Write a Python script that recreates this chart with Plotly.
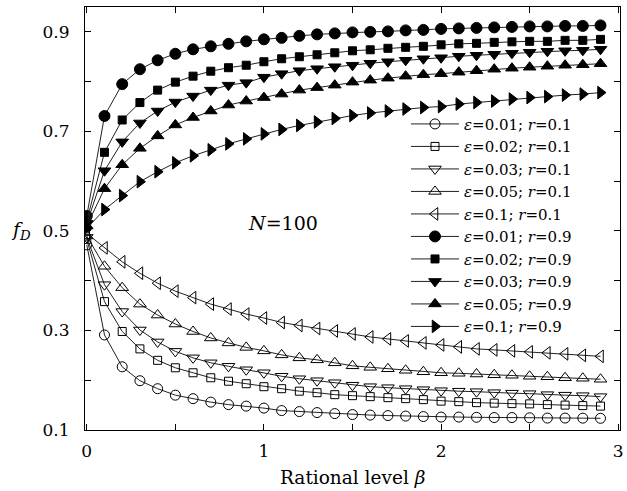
import plotly.graph_objects as go

beta = [0.0, 0.1, 0.2, 0.3, 0.4, 0.5, 0.6, 0.7, 0.8, 0.9,
        1.0, 1.1, 1.2, 1.3, 1.4, 1.5, 1.6, 1.7, 1.8, 1.9,
        2.0, 2.1, 2.2, 2.3, 2.4, 2.5, 2.6, 2.7, 2.8, 2.9]

# r = 0.1 (open markers)
e001_r01 = [0.472, 0.291, 0.227, 0.199, 0.183, 0.170, 0.163, 0.156, 0.151, 0.148,
            0.144, 0.139, 0.137, 0.135, 0.133, 0.131, 0.130, 0.129, 0.128, 0.127,
            0.126, 0.126, 0.1255, 0.125, 0.125, 0.1245, 0.124, 0.124, 0.1238, 0.1235]
e002_r01 = [0.483, 0.358, 0.298, 0.263, 0.240, 0.225, 0.215, 0.205, 0.198, 0.193,
            0.187, 0.183, 0.178, 0.175, 0.171, 0.169, 0.167, 0.165, 0.163, 0.161,
            0.158, 0.157, 0.155, 0.154, 0.153, 0.1525, 0.151, 0.150, 0.149, 0.148]
e003_r01 = [0.487, 0.392, 0.338, 0.301, 0.277, 0.258, 0.245, 0.235, 0.228, 0.221,
            0.215, 0.208, 0.203, 0.199, 0.195, 0.190, 0.187, 0.185, 0.183, 0.181,
            0.179, 0.178, 0.177, 0.175, 0.174, 0.173, 0.171, 0.170, 0.169, 0.167]
e005_r01 = [0.490, 0.429, 0.386, 0.353, 0.331, 0.313, 0.298, 0.285, 0.275, 0.266,
            0.259, 0.251, 0.245, 0.241, 0.235, 0.229, 0.226, 0.223, 0.220, 0.217,
            0.215, 0.214, 0.2125, 0.211, 0.210, 0.208, 0.207, 0.205, 0.204, 0.202]
e01_r01 = [0.495, 0.466, 0.438, 0.415, 0.395, 0.379, 0.366, 0.353, 0.343, 0.333,
           0.325, 0.316, 0.310, 0.304, 0.299, 0.293, 0.287, 0.283, 0.279, 0.275,
           0.271, 0.267, 0.263, 0.261, 0.259, 0.257, 0.255, 0.253, 0.250, 0.248]

# r = 0.9 (filled markers)
e001_r09 = [0.530, 0.731, 0.795, 0.825, 0.843, 0.856, 0.865, 0.871, 0.876, 0.881,
            0.885, 0.888, 0.892, 0.895, 0.897, 0.899, 0.900, 0.901, 0.903, 0.904,
            0.906, 0.907, 0.908, 0.909, 0.910, 0.911, 0.911, 0.912, 0.912, 0.913]
e002_r09 = [0.520, 0.658, 0.723, 0.758, 0.783, 0.799, 0.811, 0.821, 0.828, 0.833,
            0.840, 0.846, 0.850, 0.854, 0.858, 0.862, 0.864, 0.867, 0.869, 0.871,
            0.874, 0.876, 0.877, 0.879, 0.880, 0.881, 0.881, 0.883, 0.883, 0.885]
e003_r09 = [0.515, 0.621, 0.679, 0.717, 0.741, 0.759, 0.771, 0.783, 0.793, 0.798,
            0.809, 0.816, 0.822, 0.826, 0.830, 0.833, 0.837, 0.840, 0.843, 0.846,
            0.848, 0.851, 0.853, 0.855, 0.857, 0.859, 0.861, 0.862, 0.863, 0.865]
e005_r09 = [0.510, 0.585, 0.633, 0.666, 0.691, 0.713, 0.728, 0.741, 0.753, 0.761,
            0.768, 0.775, 0.783, 0.788, 0.793, 0.799, 0.803, 0.807, 0.811, 0.814,
            0.816, 0.819, 0.822, 0.825, 0.827, 0.829, 0.831, 0.833, 0.834, 0.836]
e01_r09 = [0.505, 0.543, 0.571, 0.599, 0.619, 0.637, 0.651, 0.663, 0.675, 0.685,
           0.695, 0.704, 0.712, 0.719, 0.726, 0.732, 0.737, 0.741, 0.745, 0.748,
           0.750, 0.755, 0.758, 0.761, 0.765, 0.768, 0.770, 0.773, 0.775, 0.778]

labels = ["<i>ε</i>=0.01; <i>r</i>=0.1", "<i>ε</i>=0.02; <i>r</i>=0.1",
          "<i>ε</i>=0.03; <i>r</i>=0.1", "<i>ε</i>=0.05; <i>r</i>=0.1",
          "<i>ε</i>=0.1; <i>r</i>=0.1",
          "<i>ε</i>=0.01; <i>r</i>=0.9", "<i>ε</i>=0.02; <i>r</i>=0.9",
          "<i>ε</i>=0.03; <i>r</i>=0.9", "<i>ε</i>=0.05; <i>r</i>=0.9",
          "<i>ε</i>=0.1; <i>r</i>=0.9"]
series = [e001_r01, e002_r01, e003_r01, e005_r01, e01_r01,
          e001_r09, e002_r09, e003_r09, e005_r09, e01_r09]
symbols = ["circle-open", "square-open", "triangle-down-open", "triangle-up-open",
           "triangle-left-open", "circle", "square", "triangle-down",
           "triangle-up", "triangle-right"]
sizes = [10, 8, 11, 11, 11, 11, 8, 11, 11, 11]

y_tickvals = [0.1, 0.2, 0.3, 0.4, 0.5, 0.6, 0.7, 0.8, 0.9]
y_ticktext = ["0.1", " ", "0.3", " ", "0.5", " ", "0.7", " ", "0.9"]
x_tickvals = [0, 0.5, 1, 1.5, 2, 2.5, 3]
x_ticktext = ["0", " ", "1", " ", "2", " ", "3"]

FONT = "DejaVu Serif, Liberation Serif, serif"

fig = go.Figure()
for lab, ys, sym, sz in zip(labels, series, symbols, sizes):
    fig.add_trace(go.Scatter(
        x=beta, y=ys, mode="lines+markers", name=lab,
        line=dict(color="#222222", width=1),
        marker=dict(symbol=sym, size=sz, color="black",
                    line=dict(color="black", width=1)),
    ))

fig.update_layout(
    width=627, height=491,
    margin=dict(l=85, r=3, t=7, b=61),
    plot_bgcolor="white", paper_bgcolor="white",
    font=dict(family=FONT, size=17, color="black"),
    showlegend=True,
    legend=dict(x=0.6, y=0.762, xanchor="left", yanchor="top",
                bgcolor="rgba(255,255,255,0)", borderwidth=0,
                font=dict(family=FONT, size=15), tracegroupgap=0,
                itemwidth=48),
    xaxis=dict(range=[-0.01, 3.01], tickvals=x_tickvals, ticktext=x_ticktext,
               ticks="inside", ticklen=6, tickcolor="black", showgrid=False,
               zeroline=False, showline=True, linecolor="black", linewidth=1,
               mirror="ticks", ticklabelstandoff=6, ticklabeloverflow="allow"),
    yaxis=dict(range=[0.1, 0.95], tickvals=y_tickvals, ticktext=y_ticktext,
               ticks="inside", ticklen=6, tickcolor="black", showgrid=False,
               zeroline=False, showline=True, linecolor="black", linewidth=1,
               mirror="ticks", ticklabelstandoff=11),
    annotations=[
        dict(text="Rational level <i>β</i>", xref="paper", yref="paper",
             x=0.5, y=0, xanchor="center", yanchor="top", yshift=-35,
             showarrow=False, font=dict(size=18.5)),
        dict(text="<i>f<sub>D</sub></i>", xref="paper", yref="y",
             x=0, y=0.5, xanchor="right", yanchor="middle", xshift=-52,
             showarrow=False, font=dict(size=19)),
        dict(text="<i>N</i>=100", xref="x", yref="y", x=1.11, y=0.515,
             xanchor="center", yanchor="middle", showarrow=False,
             font=dict(size=19)),
    ],
)

fig.write_html("out.html")
